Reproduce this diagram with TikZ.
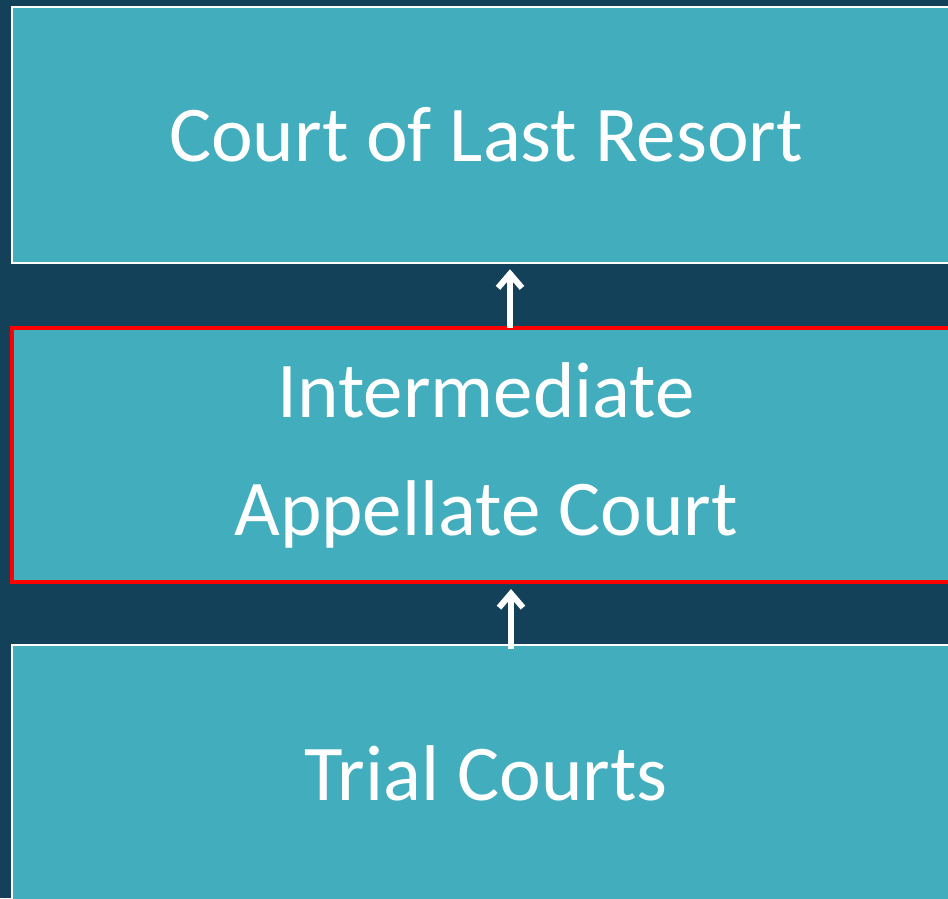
\documentclass[tikz,border=0pt]{standalone}
\usepackage{fontspec}
\setmainfont{Carlito}
\usetikzlibrary{arrows.meta}
\definecolor{slidebg}{RGB}{19,65,89}
\definecolor{courtfill}{RGB}{66,174,189}
\begin{document}
\begin{tikzpicture}[x=1pt,y=-1pt]
    \tikzstyle{every node} = [font=\fontsize{79}{118}\selectfont, text=white]
    \tikzstyle{court} = [draw=white, line width=2.5pt, rectangle, fill=courtfill, minimum width=948pt, minimum height=256pt, inner sep=0pt, align=center]
    \tikzstyle{upward} = [-{Straight Barb[length=14pt,width=24pt,line width=6pt]}, line width=6pt, white, shorten >=5pt, line cap=butt]
    % background
    \fill[slidebg] (0,0) rectangle (948,898);
    \useasboundingbox (0,0) rectangle (948,898);

    % place nodes
    \node[court](lastResort) at (486,135){Court of Last Resort};
    \node[court,draw=red,line width=4pt,minimum height=254pt](appellate) at (486,455){Intermediate\\Appellate Court};
    \node[court](trial) at (486,773){Trial Courts};

    % Connections
    \draw[upward] ([xshift=24pt,yshift=-2pt]appellate.north) -- ([xshift=24pt]lastResort.south);
    \draw[upward] ([xshift=25pt,yshift=-5pt]trial.north) -- ([xshift=25pt]appellate.south);

  \end{tikzpicture}
\end{document}
